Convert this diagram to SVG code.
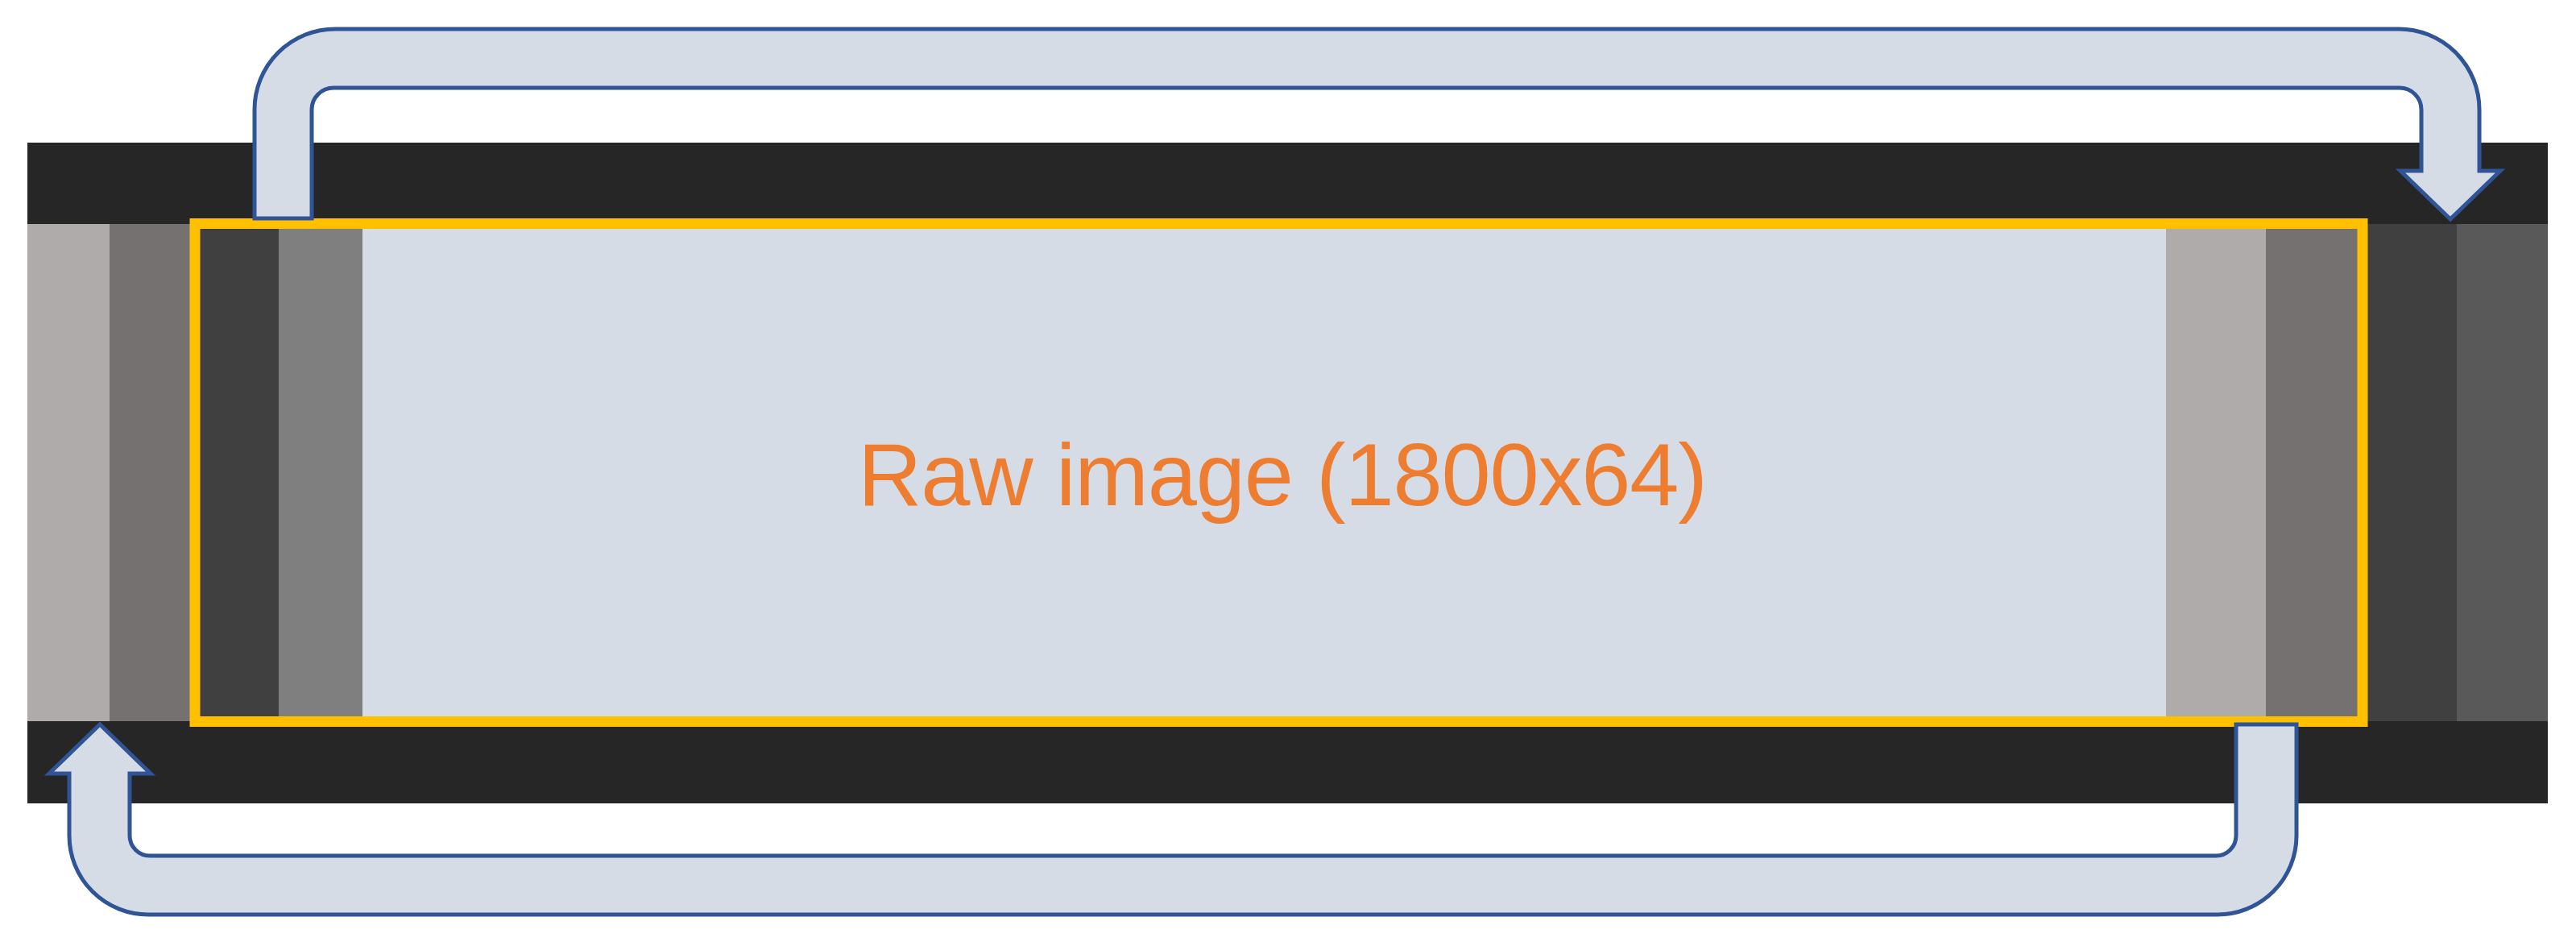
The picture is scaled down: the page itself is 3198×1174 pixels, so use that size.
<svg xmlns="http://www.w3.org/2000/svg" width="3198" height="1174" viewBox="0 0 3198 1174">
  <style>
    .arrow { fill: #D6DCE5; stroke: #2F5597; stroke-width: 5; stroke-linejoin: miter; }
    .label { font-family: "Liberation Sans", Arial, sans-serif; font-size: 110px; fill: #ED7D31; }
  </style>
  <rect x="0" y="0" width="3198" height="1174" fill="#FFFFFF"/>
  <g id="band">
    <rect x="34" y="177" width="3129" height="820" fill="#262626"/>
  </g>
  <g id="stripes">
    <rect x="34" y="278" width="102" height="617" fill="#AFABAB"/>
    <rect x="136" y="278" width="100" height="617" fill="#767171"/>
    <rect x="236" y="278" width="110" height="617" fill="#404040"/>
    <rect x="346" y="278" width="104" height="617" fill="#7F7F7F"/>
    <rect x="450" y="278" width="2239" height="617" fill="#D6DCE5"/>
    <rect x="2689" y="278" width="124" height="617" fill="#AFABAB"/>
    <rect x="2813" y="278" width="126" height="617" fill="#767171"/>
    <rect x="2939" y="278" width="111" height="617" fill="#404040"/>
    <rect x="3050" y="278" width="113" height="617" fill="#595959"/>
  </g>
  <g id="raw-image">
    <rect x="242" y="277.5" width="2691" height="618" fill="none" stroke="#FFC000" stroke-width="13"/>
    <text class="label" x="1065" y="627" textLength="1055" lengthAdjust="spacing">Raw image (1800x64)</text>
  </g>
  <g id="connectors">
    <path id="arrow-top" class="arrow" d="M 316 271 L 316 136 A 100 100 0 0 1 416 36 L 2978 36 A 100 100 0 0 1 3078 136 L 3078 212 L 3104 212 L 3042 272 L 2980 212 L 3006 212 L 3006 136 A 27 27 0 0 0 2979 109 L 414 109 A 27 27 0 0 0 387 136 L 387 271 Z"/>
    <path id="arrow-bottom" class="arrow" d="M 2776 899 L 2851 899 L 2851 1037 A 98 98 0 0 1 2753 1135 L 184 1135 A 98 98 0 0 1 86 1037 L 86 960 L 61 960 L 124 899 L 187 960 L 161 960 L 161 1037 A 25 25 0 0 0 186 1062 L 2751 1062 A 25 25 0 0 0 2776 1037 Z"/>
  </g>
</svg>
